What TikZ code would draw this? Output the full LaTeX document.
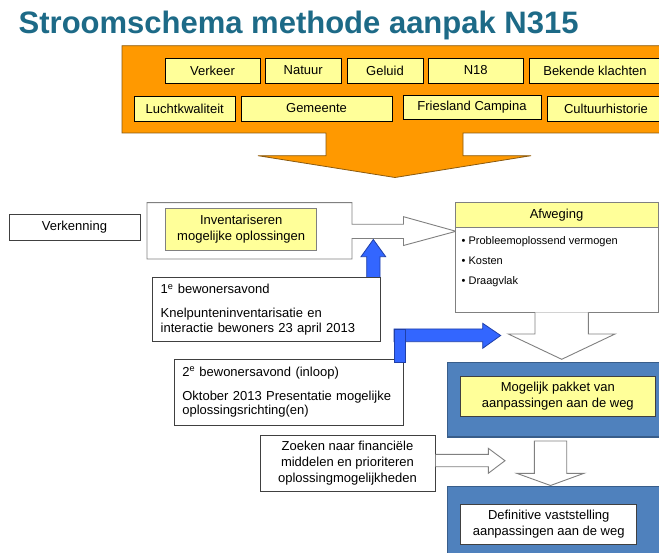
\documentclass[tikz,border=0pt]{standalone}
\usepackage{fontspec}
\setmainfont{Liberation Sans}
\definecolor{titleblue}{HTML}{1D6A87}
\definecolor{orangefill}{HTML}{FF9900}
\definecolor{orangeline}{HTML}{8A5A10}
\definecolor{ylw}{HTML}{FFFF99}
\definecolor{boxblue}{HTML}{4F81BD}
\definecolor{boxblueline}{HTML}{385D8A}
\definecolor{arrblue}{HTML}{3366FF}
\definecolor{arrblueline}{HTML}{1F3FA8}
\definecolor{grayline}{HTML}{808080}
\definecolor{darkline}{HTML}{404040}
\begin{document}
\begin{tikzpicture}[x=1pt,y=-1pt,
  txt/.style={font=\fontsize{13}{16}\selectfont},
  ybox/.style={txt,draw=black,line width=0.8pt,fill=ylw,inner sep=0pt,align=center},
  wbox/.style={txt,draw=darkline,line width=0.8pt,fill=white,inner sep=0pt,align=center},
  lbox/.style={font=\fontsize{13}{14.5}\selectfont,draw=darkline,line width=0.8pt,fill=white,inner xsep=8pt,inner ysep=0pt,align=left},
  bbox/.style={draw=boxblueline,line width=1.5pt,fill=boxblue,inner sep=0pt},
  warrow/.style={draw=grayline,line width=0.9pt,fill=white,line join=miter},
  barrow/.style={draw=arrblueline,line width=0.8pt,fill=arrblue,line join=miter}]
\useasboundingbox (0,0) rectangle (659,553);
\clip (0,0) rectangle (659,553);
\fill[white] (0,0) rectangle (659,553);

% title
\node[anchor=base west,inner sep=0pt,text=titleblue,font=\fontsize{31}{36}\selectfont\bfseries] (title) at (18.5,34) {Stroomschema methode aanpak N315};

% orange block arrow
\draw[draw=orangeline,line width=0.8pt,fill=orangefill]
  (122,45.7) -- (665,45.7) -- (665,133) -- (463,133) -- (463,155.7) -- (531,155.7)
  -- (395,177.5) -- (258,155.7) -- (326,155.7) -- (326,133) -- (122,133) -- cycle;

% top boxes
\node[ybox,minimum width=95pt,minimum height=25pt] (verkeer) at (212.5,70.5) {Verkeer};
\node[ybox,minimum width=75.5pt,minimum height=25pt] (natuur) at (303.25,70.5) {Natuur};
\node[ybox,minimum width=76pt,minimum height=25pt] (geluid) at (385,70.5) {Geluid};
\node[ybox,minimum width=94.5pt,minimum height=25pt] (n18) at (475.75,70.5) {N18};
\node[ybox,minimum width=132pt,minimum height=25pt] (bekende) at (595,70.5) {Bekende klachten};
\node[ybox,minimum width=100.5pt,minimum height=25pt] (lucht) at (184.75,108.5) {Luchtkwaliteit};
\node[ybox,minimum width=151pt,minimum height=25pt] (gemeente) at (316.5,108.5) {Gemeente};
\node[ybox,minimum width=138pt,minimum height=24pt] (friesland) at (472,107) {Friesland Campina};
\node[ybox,minimum width=118pt,minimum height=25pt] (cultuur) at (606,108.5) {Cultuurhistorie};

% Verkenning
\node[wbox,minimum width=131pt,minimum height=25.5pt] (verkenning) at (74.5,227.25) {Verkenning};

% white block arrow around Inventariseren
\draw[warrow] (147,202.7) -- (352,202.7) -- (352,224.3) -- (403.5,224.3) -- (403.5,216.7)
  -- (456,231.3) -- (403.5,245.5) -- (403.5,238.5) -- (352,238.5) -- (352,259) -- (147,259) -- cycle;
\node[ybox,draw=grayline,minimum width=151pt,minimum height=42pt] (invent) at (241.2,229.3) {Inventariseren\\mogelijke oplossingen};

% Afweging
\node[draw=grayline,line width=0.9pt,fill=white,minimum width=203pt,minimum height=109.6pt,inner sep=0pt] (afw) at (556.5,257.5) {};
\node[ybox,draw=grayline,line width=0.9pt,minimum width=203pt,minimum height=24.6pt] (afwh) at (556.5,215) {Afweging};
\node[anchor=north west,inner sep=0pt,align=left,font=\fontsize{11}{20}\selectfont] (bullets) at (461.5,236.5)
  {\textbullet\ Probleemoplossend vermogen\\\textbullet\ Kosten\\\textbullet\ Draagvlak};

% down arrow below Afweging
\filldraw[warrow] (535,312.3) -- (535,334) -- (508.3,334) -- (561.7,359.3) -- (615,334) -- (588.3,334) -- (588.3,312.3);

% blue up arrow
\draw[barrow] (366.7,278) -- (366.7,256.7) -- (361,256.7) -- (373.3,239.5) -- (385.7,256.7) -- (380,256.7) -- (380,278) -- cycle;

% 1e bewonersavond
\node[lbox,text width=211.6pt,minimum height=64.4pt] (bew1) at (266.5,309.5)
  {1\textsuperscript{e} bewonersavond\\[10pt]Knelpunteninventarisatie en\\interactie bewoners 23 april 2013};

% blue L arrow (horizontal part)
\draw[barrow] (394,329) -- (482.7,329) -- (482.7,323.3) -- (500.7,335.5) -- (482.7,348.3) -- (482.7,341.7) -- (394,341.7) -- cycle;

% 2e bewonersavond
\node[lbox,text width=213pt,minimum height=66pt] (bew2) at (288.8,392)
  {2\textsuperscript{e} bewonersavond (inloop)\\[9.5pt]Oktober 2013 Presentatie mogelijke\\oplossingsrichting(en)};

% blue L arrow (vertical part)
\draw[barrow] (394,329) rectangle (405,362.3);

% Mogelijk pakket
\node[bbox,minimum width=213.3pt,minimum height=74.7pt] (pakketbg) at (554.35,399.65) {};
\node[ybox,draw=darkline,minimum width=194.3pt,minimum height=40.7pt] (pakket) at (557.85,396.35) {Mogelijk pakket van\\aanpassingen aan de weg};

% Zoeken
\node[wbox,minimum width=175pt,minimum height=56.7pt] (zoeken) at (347.5,463.35) {Zoeken naar financiële\\middelen en prioriteren\\oplossingmogelijkheden};
\filldraw[warrow] (435.5,454.3) -- (488.3,454.3) -- (488.3,448.3) -- (505,460.7) -- (488.3,473.3) -- (488.3,466.7) -- (435.5,466.7);

% down arrow 2
\draw[warrow] (534.3,441) -- (566.7,441) -- (566.7,473.3) -- (584,473.3) -- (550.5,485.5) -- (516.7,473.3) -- (534.3,473.3) -- cycle;

% Definitive
\node[bbox,minimum width=213.3pt,minimum height=70pt] (defbg) at (554.35,521.5) {};
\node[wbox,draw=darkline,minimum width=176pt,minimum height=40pt] (definitief) at (548.7,524) {Definitive vaststelling\\aanpassingen aan de weg};
\end{tikzpicture}
\end{document}
